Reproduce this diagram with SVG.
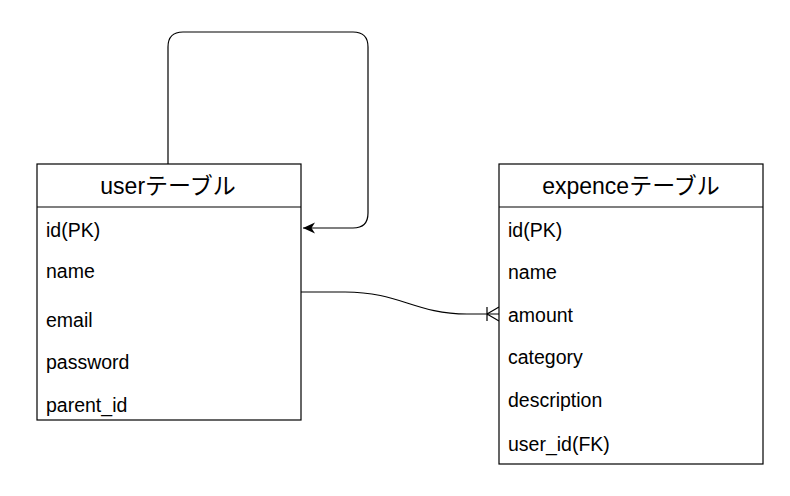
<svg xmlns="http://www.w3.org/2000/svg" width="790" height="496" viewBox="0 0 790 496">
<style>
.box{fill:#fff;stroke:#000;stroke-width:1.2}
.hdr{font-family:"Liberation Sans","Noto Sans CJK JP",sans-serif;font-size:23px;fill:#000;text-anchor:middle}
.row{font-family:"Liberation Sans","Noto Sans CJK JP",sans-serif;font-size:19.5px;fill:#000}
.conn{fill:none;stroke:#000;stroke-width:1.2}
</style>
<defs>
<marker id="arr" markerWidth="14" markerHeight="14" refX="12" refY="7" orient="auto" markerUnits="userSpaceOnUse">
<path d="M0,1.5 L12,7 L0,12.5 L3.5,7 Z" fill="#000"/>
</marker>
</defs>
<g id="connectors">
<path class="conn" d="M168,164 V47 Q168,32 183,32 H353 Q368,32 368,47 V213 Q368,228 353,228 H303" marker-end="url(#arr)"/>
<path class="conn" d="M301,292 H345 C400,292 415,314 467,314 H499"/>
<path class="conn" d="M487,307 V321 M487,314 L499,307 M487,314 L499,321"/>
</g>
<g id="user">
<rect class="box" x="37" y="164" width="264" height="256"/>
<line class="conn" x1="37" y1="207" x2="301" y2="207"/>
<text class="hdr" x="168" y="194">userテーブル</text>
<text class="row" x="46" y="237">id(PK)</text>
<text class="row" x="46" y="278">name</text>
<text class="row" x="46" y="327">email</text>
<text class="row" x="46" y="369">password</text>
<text class="row" x="46" y="412">parent_id</text>
</g>
<g id="expence">
<rect class="box" x="499" y="164" width="264" height="300"/>
<line class="conn" x1="499" y1="207" x2="763" y2="207"/>
<text class="hdr" x="631" y="194">expenceテーブル</text>
<text class="row" x="508" y="237">id(PK)</text>
<text class="row" x="508" y="279">name</text>
<text class="row" x="508" y="322">amount</text>
<text class="row" x="508" y="364">category</text>
<text class="row" x="508" y="407">description</text>
<text class="row" x="508" y="451">user_id(FK)</text>
</g>
</svg>
